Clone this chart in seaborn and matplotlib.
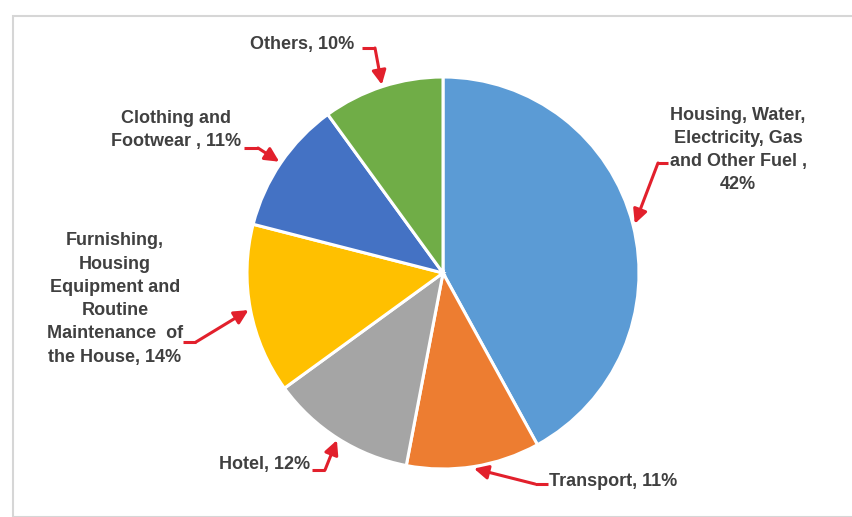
import numpy as np
import matplotlib
matplotlib.use("Agg")
import matplotlib.pyplot as plt
import seaborn as sns
from matplotlib.patches import Rectangle

# ---- data ----
categories = ["Housing, Water,\nElectricity, Gas\nand Other Fuel ,\n42%",
              "Transport, 11%",
              "Hotel, 12%",
              "Furnishing,\nHousing\nEquipment and\nRoutine\nMaintenance  of\nthe House, 14%",
              "Clothing and\nFootwear , 11%",
              "Others, 10%"]
values = [42, 11, 12, 14, 11, 10]
colors = ["#5B9BD5", "#ED7D31", "#A5A5A5", "#FFC000", "#4472C4", "#70AD47"]

sns.set_theme(style="white")
plt.rcParams["font.family"] = ["Liberation Sans Narrow", "Liberation Sans", "DejaVu Sans"]

W, H = 852, 517
fig = plt.figure(figsize=(W / 100, H / 100), dpi=100)
ax = fig.add_axes([0, 0, 1, 1])

cx, cy, r = 443, H - 273, 196
wedges, _ = ax.pie(values, colors=colors, startangle=90, counterclock=False,
                   center=(cx, cy), radius=r,
                   wedgeprops=dict(edgecolor="white", linewidth=2.2))
ax.set_xlim(0, W)
ax.set_ylim(0, H)
ax.set_aspect("equal")
ax.axis("off")

# frame around chart area
fig.patches.append(Rectangle((13 / W, 0), 1.0, (H - 16) / H, transform=fig.transFigure,
                             fill=False, edgecolor="#d6d6d6", linewidth=1.5))

# label layout (image coords): text centre, arrow tail start, horizontal end
layout = [
    ((738, 150), (668, 163), (658, 163)),
    ((613, 482), (548, 484), (535, 484)),
    ((265, 465), (312, 470), (325, 470)),
    ((115, 299), (183, 342), (196, 342)),
    ((176, 130), (244, 148), (258, 148)),
    ((302, 44), (362, 48), (375, 48)),
]

red = "#E2202C"
for w, lab, (tpos, tail, corner) in zip(wedges, categories, layout):
    mid = np.deg2rad((w.theta1 + w.theta2) / 2)
    tip = (cx + (r + 2) * np.cos(mid), cy + (r + 2) * np.sin(mid))
    ax.text(tpos[0], H - tpos[1], lab, ha="center", va="center", fontsize=13,
            fontweight="bold", color="#404040", linespacing=1.48)
    ax.plot([tail[0], corner[0]], [H - tail[1], H - corner[1]], color=red, lw=2.2,
            solid_capstyle="butt")
    ax.annotate("", xy=tip, xytext=(corner[0], H - corner[1]),
                arrowprops=dict(arrowstyle="-|>,head_length=0.7,head_width=0.35",
                                color=red, lw=2.2, shrinkA=0, shrinkB=0))

fig.savefig("out.png", dpi=100)
